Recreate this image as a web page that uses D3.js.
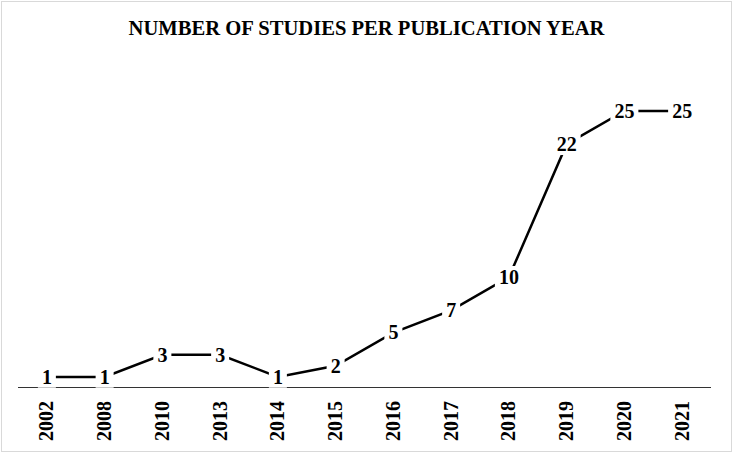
<!DOCTYPE html>
<html>
<head>
<meta charset="utf-8">
<script src="https://cdn.jsdelivr.net/npm/d3@7"></script>
<style>
  body { margin: 0; background: #fff; }
  svg { display: block; font-family: "Liberation Serif", "Times New Roman", serif; }
</style>
</head>
<body>
<svg id="chart" width="733" height="453"></svg>
<script>
// Data
const years = ["2002", "2008", "2010", "2013", "2014", "2015", "2016", "2017", "2018", "2019", "2020", "2021"];
const studies = [1, 1, 3, 3, 1, 2, 5, 7, 10, 22, 25, 25];

const width = 733;
const height = 453;

const svg = d3.select("#chart");

// Light frame round the chart
svg.append("rect")
  .attr("x", 1.5).attr("y", 1.5)
  .attr("width", width - 3).attr("height", height - 3)
  .attr("fill", "#fff")
  .attr("stroke", "#d9d9d9");

// Title
svg.append("text")
  .attr("x", width / 2)
  .attr("y", 35)
  .attr("text-anchor", "middle")
  .attr("font-size", 20.6)
  .attr("font-weight", "bold")
  .text("NUMBER OF STUDIES PER PUBLICATION YEAR");

const x = d3.scaleBand().domain(years).range([18, 711]);
const y = d3.scaleLinear().domain([0, 25]).range([388, 111]);

const px = (d, i) => x(years[i]) + x.bandwidth() / 2;

// Axis line
svg.append("line")
  .attr("x1", 18).attr("x2", 711)
  .attr("y1", 387.5).attr("y2", 387.5)
  .attr("stroke", "#333")
  .attr("stroke-width", 1);

// Year labels, rotated
svg.selectAll(".year")
  .data(years)
  .join("text")
  .attr("class", "year")
  .attr("transform", (d) => `translate(${x(d) + x.bandwidth() / 2 + 6.5}, 401) rotate(-90)`)
  .attr("text-anchor", "end")
  .attr("font-size", 20)
  .attr("font-weight", "bold")
  .text((d) => d);

// The line
const line = d3.line()
  .x((d, i) => px(d, i))
  .y((d) => y(d));

svg.append("path")
  .datum(studies)
  .attr("d", line)
  .attr("fill", "none")
  .attr("stroke", "#000")
  .attr("stroke-width", 2.5);

// Value labels with white background that breaks the line
const lab = svg.selectAll(".lab")
  .data(studies)
  .join("g")
  .attr("class", "lab")
  .attr("transform", (d, i) => `translate(${px(d, i)}, ${y(d)})`);

lab.append("text")
  .attr("text-anchor", "middle")
  .attr("dy", "0.34em")
  .attr("font-size", 20)
  .attr("font-weight", "bold")
  .text((d) => d);

lab.each(function () {
  const g = d3.select(this);
  const b = g.select("text").node().getBBox();
  g.insert("rect", "text")
    .attr("x", b.x - 4)
    .attr("y", b.y)
    .attr("width", b.width + 8)
    .attr("height", b.height)
    .attr("fill", "#fff");
});
</script>
</body>
</html>
